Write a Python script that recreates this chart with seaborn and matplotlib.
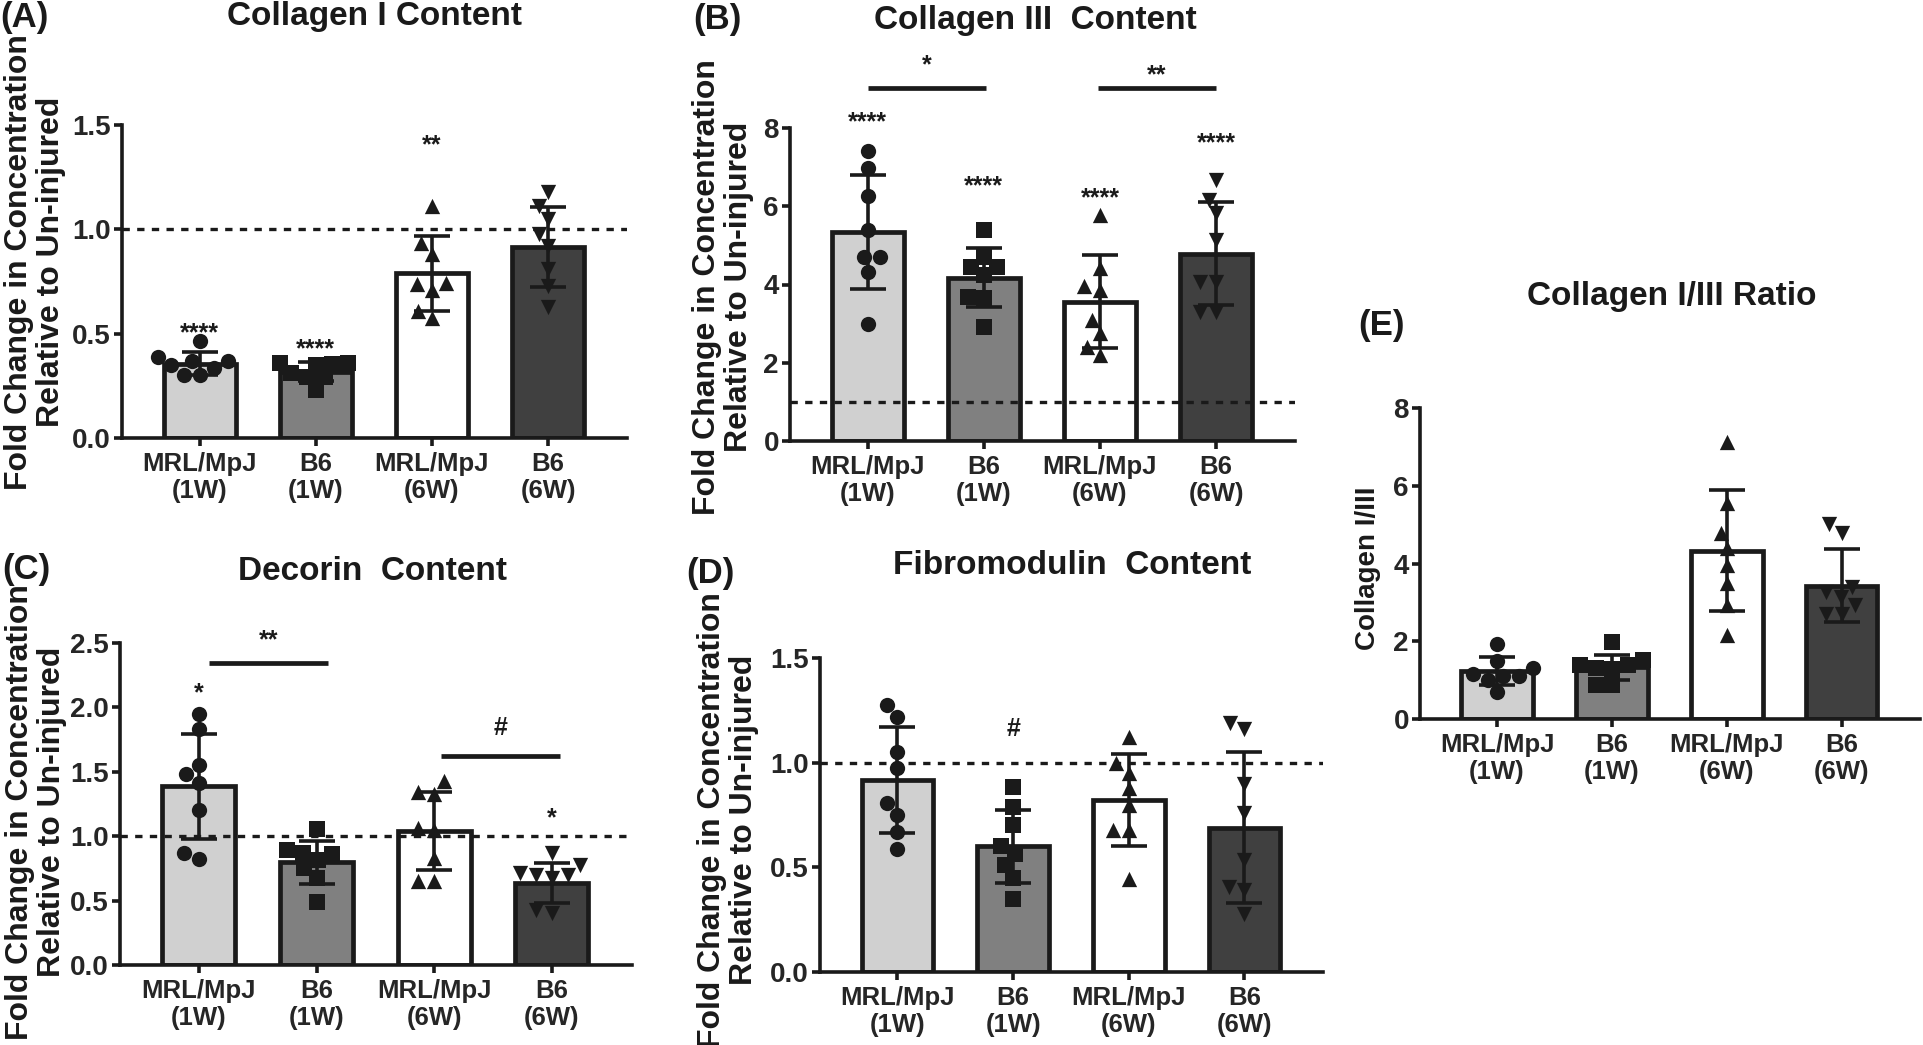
import numpy as np
import seaborn as sns
import matplotlib.pyplot as plt
from matplotlib.ticker import FormatStrFormatter

sns.set_style("ticks")
plt.rcParams["font.family"] = ["Liberation Sans", "DejaVu Sans"]
plt.rcParams["font.weight"] = "bold"

# -------------------------------------------------
# Groups / styling
# -------------------------------------------------
groups = ["MRL/MpJ\n(1W)", "B6\n(1W)", "MRL/MpJ\n(6W)", "B6\n(6W)"]
bar_colors = ["#d0d0d0", "#808080", "#ffffff", "#404040"]
markers = ["o", "s", "^", "v"]
ink = "#1a1a1a"

# -------------------------------------------------
# (A) Collagen I content
# -------------------------------------------------
col1_mean = [0.355, 0.318, 0.79, 0.916]
col1_sd = [0.055, 0.044, 0.18, 0.19]
col1_pts = [
    [0.39, 0.367, 0.303, 0.463, 0.37, 0.335, 0.303, 0.348],
    [0.36, 0.355, 0.35, 0.36, 0.31, 0.29, 0.29, 0.23],
    [1.11, 0.935, 0.88, 0.74, 0.745, 0.71, 0.61, 0.575],
    [1.18, 1.11, 1.05, 0.98, 0.92, 0.81, 0.73, 0.63],
]
col1_marks = [(0, 0.50, "****"), (1, 0.425, "****"), (2, 1.405, "**")]

# -------------------------------------------------
# (B) Collagen III content
# -------------------------------------------------
col3_mean = [5.34, 4.175, 3.565, 4.79]
col3_sd = [1.46, 0.755, 1.195, 1.31]
col3_pts = [
    [7.4, 6.98, 6.27, 5.4, 4.71, 4.71, 4.33, 3.0],
    [5.4, 4.71, 4.46, 4.46, 4.24, 3.69, 3.65, 2.92],
    [5.78, 4.41, 3.95, 3.86, 3.09, 2.75, 2.41, 2.19],
    [6.68, 6.17, 5.82, 5.14, 4.07, 4.07, 3.3, 3.3],
]
col3_marks = [(0, 8.15, "****"), (1, 6.5, "****"), (2, 6.2, "****"), (3, 7.6, "****")]
col3_brackets = [(0.0, 1.02, 9.03, "*", 9.6), (1.98, 3.0, 9.03, "**", 9.35)]

# -------------------------------------------------
# (C) Decorin content
# -------------------------------------------------
dcn_mean = [1.386, 0.797, 1.04, 0.635]
dcn_sd = [0.41, 0.167, 0.305, 0.155]
dcn_pts = [
    [1.95, 1.83, 1.55, 1.48, 1.41, 1.2, 0.87, 0.82],
    [1.054, 0.894, 0.868, 0.863, 0.816, 0.75, 0.673, 0.49],
    [1.425, 1.347, 1.33, 1.06, 1.05, 0.83, 0.655, 0.655],
    [0.868, 0.777, 0.712, 0.70, 0.70, 0.673, 0.427, 0.407],
]
dcn_marks = [(0, 2.11, "*"), (3, 1.14, "*")]
dcn_brackets = [(0.09, 1.1, 2.345, "**", 2.52), (2.06, 3.07, 1.624, "#", 1.84)]

# -------------------------------------------------
# (D) Fibromodulin content
# -------------------------------------------------
fmod_mean = [0.917, 0.60, 0.82, 0.69]
fmod_sd = [0.255, 0.175, 0.22, 0.36]
fmod_pts = [
    [1.277, 1.22, 1.053, 0.973, 0.806, 0.75, 0.67, 0.586],
    [0.886, 0.79, 0.702, 0.60, 0.566, 0.51, 0.447, 0.351],
    [1.125, 0.997, 0.953, 0.878, 0.798, 0.678, 0.678, 0.442],
    [1.19, 1.16, 0.90, 0.758, 0.535, 0.407, 0.39, 0.279],
]
fmod_marks = [(1, 1.16, "#")]

# -------------------------------------------------
# (E) Collagen I/III ratio
# -------------------------------------------------
ratio_mean = [1.23, 1.33, 4.33, 3.43]
ratio_sd = [0.36, 0.32, 1.55, 0.945]
ratio_pts = [
    [1.93, 1.49, 1.31, 1.15, 1.10, 1.10, 1.01, 0.69],
    [1.98, 1.52, 1.40, 1.38, 1.31, 1.29, 0.87, 0.87],
    [7.13, 5.56, 4.78, 4.41, 3.95, 3.49, 2.94, 2.16],
    [5.01, 4.78, 3.40, 3.26, 3.13, 2.94, 2.71, 2.71],
]

W, H = 1924, 1045


def rect(l, r, t, b):
    return [l / W, 1 - b / H, (r - l) / W, (b - t) / H]


def draw_panel(ax, means, sds, pts, ymax, step, fmt, marks=(), brackets=(), ref=True):
    sns.barplot(x=groups, y=means, hue=groups, palette=bar_colors, legend=False,
                width=0.62, edgecolor=ink, linewidth=3.4, errorbar=None, ax=ax, zorder=1)
    if ref:
        ax.axhline(1.0, color=ink, lw=2.4, ls=(0, (2.2, 2.2)), zorder=2)
    ax.errorbar(np.arange(len(groups)), means, yerr=sds, fmt="none", ecolor=ink,
                elinewidth=2.6, capsize=13, capthick=2.6, zorder=3)
    for g, vals, m in zip(groups, pts, markers):
        sns.swarmplot(x=[g] * len(vals), y=vals, order=groups, marker=m, color=ink,
                      size=11, ax=ax, zorder=4, warn_thresh=1.0)
    for i, y, txt in marks:
        ax.text(i, y, txt, ha="center", va="center", fontsize=18, color=ink)
    for x0, x1, y, txt, ty in brackets:
        ax.plot([x0, x1], [y, y], color=ink, lw=3.4, clip_on=False, solid_capstyle="butt")
        ax.text((x0 + x1) / 2, ty, txt, ha="center", va="center", fontsize=18, color=ink)

    ax.set_xlim(-0.67, 3.68)
    ax.set_ylim(0, ymax)
    ax.set_yticks(np.arange(0, ymax + step / 2, step))
    ax.yaxis.set_major_formatter(FormatStrFormatter(fmt))
    ax.set_xticks(range(len(groups)))
    ax.set_xticklabels(groups, linespacing=1.15)
    ax.set_xlabel("")
    ax.set_ylabel("")
    sns.despine(ax=ax)
    for s in ["left", "bottom"]:
        ax.spines[s].set_linewidth(2.6)
        ax.spines[s].set_color(ink)
    ax.tick_params(axis="both", direction="out", length=6, width=2.6, color=ink)
    ax.tick_params(axis="x", labelsize=18.5, pad=4)
    ax.tick_params(axis="y", labelsize=20, pad=2)


fig = plt.figure(figsize=(W / 100, H / 100), dpi=100)

axA = fig.add_axes(rect(122, 627, 125, 438))
draw_panel(axA, col1_mean, col1_sd, col1_pts, 1.5, 0.5, "%.1f", marks=col1_marks)

axB = fig.add_axes(rect(790, 1295, 128, 441))
draw_panel(axB, col3_mean, col3_sd, col3_pts, 8, 2, "%d", marks=col3_marks, brackets=col3_brackets)

axC = fig.add_axes(rect(120, 632, 643, 965))
draw_panel(axC, dcn_mean, dcn_sd, dcn_pts, 2.5, 0.5, "%.1f", marks=dcn_marks, brackets=dcn_brackets)

axD = fig.add_axes(rect(820, 1323, 658, 972))
draw_panel(axD, fmod_mean, fmod_sd, fmod_pts, 1.5, 0.5, "%.1f", marks=fmod_marks)

axE = fig.add_axes(rect(1420, 1920, 408, 719))
draw_panel(axE, ratio_mean, ratio_sd, ratio_pts, 8, 2, "%d", ref=False)

# -------------------------------------------------
# Titles, panel letters, axis labels
# -------------------------------------------------
def ftext(x, y, s, **kw):
    fig.text(x / W, 1 - y / H, s, ha="center", va="center", color=ink, **kw)


ylab = "Fold Change in Concentration\nRelative to Un-injured"
for letter, x, y in [("(A)", 24, 17), ("(B)", 717, 20), ("(C)", 26, 569), ("(D)", 710, 574), ("(E)", 1382, 325)]:
    ftext(x, y, letter, fontsize=25)
for title, x, y in [("Collagen I Content", 375, 17), ("Collagen III  Content", 1035, 20),
                    ("Decorin  Content", 373, 571), ("Fibromodulin  Content", 1072, 566),
                    ("Collagen I/III Ratio", 1672, 296)]:
    ftext(x, y, title, fontsize=24)
for x, y in [(35, 262), (723, 287), (36, 812), (728, 820)]:
    ftext(x, y, ylab, fontsize=23, rotation=90, multialignment="center", linespacing=1.05)
ftext(1368, 568, "Collagen I/III", fontsize=20, rotation=90)

fig.savefig("out.png", dpi=100)
